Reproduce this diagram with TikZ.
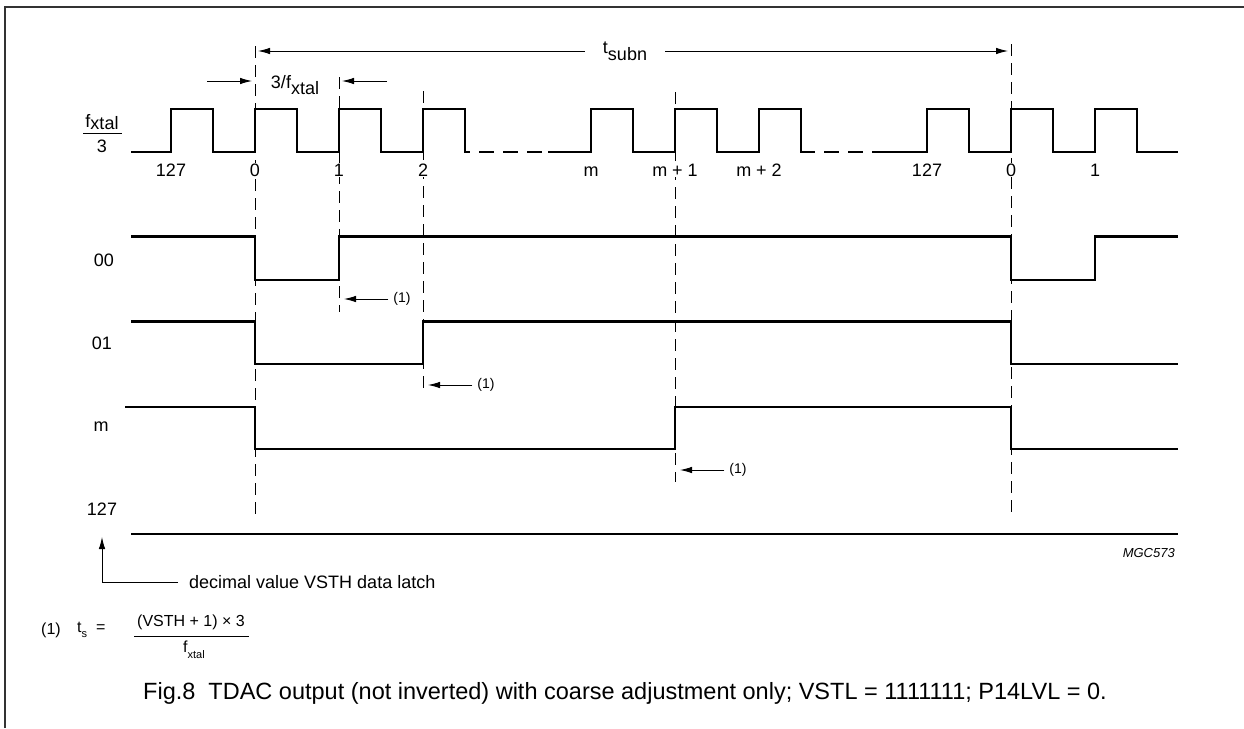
\documentclass[tikz,border=0pt]{standalone}
\usepackage{fontspec}
\setmainfont{Liberation Sans}
\usetikzlibrary{arrows.meta}

\newcommand\lowsub[1]{\raisebox{-0.38em}{#1}}
\newcommand\smallsub[1]{\raisebox{-0.35em}{\fontsize{11}{12}\selectfont #1}}

\begin{document}
\begin{tikzpicture}[x=1pt,y=-1pt,
    wave/.style={line width=2.6pt},
    guide/.style={line width=0.9pt,dash pattern=on 12pt off 7pt},
    gapwave/.style={line width=2.6pt,dash pattern=on 15pt off 9pt,dash phase=15pt},
    dimarrow/.style={line width=0.9pt,-{Latex[length=12pt,width=6.5pt]}},
    lbl/.style={inner sep=0pt,font=\fontsize{18}{21}\selectfont},
    tick/.style={lbl,fill=white,inner sep=0.6pt},
    small/.style={inner sep=0pt,font=\fontsize{14}{16}\selectfont}]
  \useasboundingbox (0,0) rectangle (1244,728);
  % frame
  \draw[line width=1.3pt,black!80] (5,728) -- (5,7) -- (1244,7);

  % Guide lines
  \draw[guide] (255,46) -- (255,517);
  \draw[guide] (339,77) -- (339,312);
  \draw[guide] (423,91) -- (423,395);
  \draw[guide] (675,92) -- (675,482);
  \draw[guide] (1011,44) -- (1011,517);

  % Period t_subn
  \node[lbl] (tsubn) at (625,51) {t\lowsub{subn}};
  \coordinate (tsA) at (258,51);
  \coordinate (tsB) at (1008,51);
  \draw[dimarrow] ([xshift=-18pt]tsubn.west) -- (tsA);
  \draw[dimarrow] ([xshift=18pt]tsubn.east) -- (tsB);

  % Period 3/f_xtal
  \node[lbl,anchor=base] (tclk) at (295,88) {3/f\lowsub{xtal}};
  \coordinate (pA) at (252,81);
  \coordinate (pB) at (342,81);
  \draw[dimarrow] ([xshift=-45pt]pA) -- (pA);
  \draw[dimarrow] ([xshift=45pt]pB) -- (pB);

  % Clock f_xtal/3
  \node[lbl,anchor=base] (clknum) at (102,127) {f\raisebox{-0.15em}{xtal}};
  \node[lbl,anchor=base] (clkden) at (102,152) {3};
  \draw[line width=1pt] (83,133) -- (122,133);
  \draw[wave] (131,152) -- (171,152) -- (171,109) -- (213,109) -- (213,152)
    -- (255,152) -- (255,109) -- (297,109) -- (297,152) -- (339,152) -- (339,109)
    -- (381,109) -- (381,152) -- (423,152) -- (423,109) -- (465,109) -- (465,152)
    -- (470,152);
  \draw[gapwave] (470,152) -- (548,152);
  \draw[wave] (548,152) -- (591,152) -- (591,109) -- (633,109) -- (633,152)
    -- (675,152) -- (675,109) -- (717,109) -- (717,152) -- (759,152) -- (759,109)
    -- (801,109) -- (801,152) -- (815,152);
  \draw[gapwave] (815,152) -- (884,152);
  \draw[wave] (884,152) -- (927,152) -- (927,109) -- (969,109) -- (969,152)
    -- (1011,152) -- (1011,109) -- (1053,109) -- (1053,152) -- (1095,152)
    -- (1095,109) -- (1137,109) -- (1137,152) -- (1178,152);
  \node[tick,anchor=base] (c127a) at (171,176) {127};
  \node[tick,anchor=base] (c0a) at (255,176) {0};
  \node[tick,anchor=base] (c1a) at (339,176) {1};
  \node[tick,anchor=base] (c2) at (423,176) {2};
  \node[tick,anchor=base] (cm) at (591,176) {m};
  \node[tick,anchor=base] (cm1) at (675,176) {m + 1};
  \node[tick,anchor=base] (cm2) at (759,176) {m + 2};
  \node[tick,anchor=base] (c127b) at (927,176) {127};
  \node[tick,anchor=base] (c0b) at (1011,176) {0};
  \node[tick,anchor=base] (c1b) at (1095,176) {1};

  % Output 00
  \node[lbl,anchor=base] (r00) at (104,266) {00};
  \draw[wave] (131,236.5) -- (255,236.5) -- (255,280) -- (339,280) -- (339,236.5)
    -- (1011,236.5) -- (1011,280) -- (1095,280) -- (1095,236.5) -- (1178,236.5);
  \node[small] (ts00) at (402,299) {(1)};
  \coordinate (e00) at (344,299);
  \draw[dimarrow] ([xshift=-5pt]ts00.west) -- (e00);

  % Output 01
  \node[lbl,anchor=base] (r01) at (102,349) {01};
  \draw[wave] (131,321.5) -- (255,321.5) -- (255,364) -- (423,364) -- (423,321.5)
    -- (1011,321.5) -- (1011,364) -- (1178,364);
  \node[small] (ts01) at (486,385) {(1)};
  \coordinate (e01) at (428,385);
  \draw[dimarrow] ([xshift=-5pt]ts01.west) -- (e01);

  % Output m
  \node[lbl,anchor=base] (rm) at (101,431) {m};
  \draw[wave] (125,407) -- (255,407) -- (255,449) -- (675,449) -- (675,407)
    -- (1011,407) -- (1011,449) -- (1178,449);
  \node[small] (ts0m) at (738,470) {(1)};
  \coordinate (e0m) at (680,470);
  \draw[dimarrow] ([xshift=-5pt]ts0m.west) -- (e0m);

  % Output 127
  \node[lbl,anchor=base] (r127) at (102,515) {127};
  \draw[wave] (131,534) -- (1178,534);
  \node[inner sep=0pt,anchor=east,font=\fontsize{13}{15}\selectfont\itshape] (code) at (1175,553) {MGC573};

  % VSTH value
  \node[lbl,anchor=west] (latch) at (189,582) {decimal value VSTH data latch};
  \coordinate (lvl) at (102,537);
  \draw[dimarrow] ([xshift=-11pt]latch.west) -| (lvl);

  % Note (1)
  \node[inner sep=0pt,font=\fontsize{16}{18}\selectfont] (nidx) at (51,630) {(1)};
  \node[inner sep=0pt,anchor=west,font=\fontsize{16}{18}\selectfont] (nts) at (77,630) {t\smallsub{s}\hspace{9pt}=};
  \node[inner sep=0pt,font=\fontsize{16}{18}\selectfont] (nnum) at (191,622) {(VSTH + 1) × 3};
  \node[inner sep=0pt,font=\fontsize{16}{18}\selectfont] (nden) at (194,650) {f\smallsub{xtal}};
  \draw[line width=1pt] (134,636) -- (249,636);

  % Caption
  \node[inner sep=0pt,font=\fontsize{23.5}{27}\selectfont] (caption) at (625,693)
    {Fig.8\ \ TDAC output (not inverted) with coarse adjustment only; VSTL = 1111111; P14LVL = 0.};
\end{tikzpicture}
\end{document}
